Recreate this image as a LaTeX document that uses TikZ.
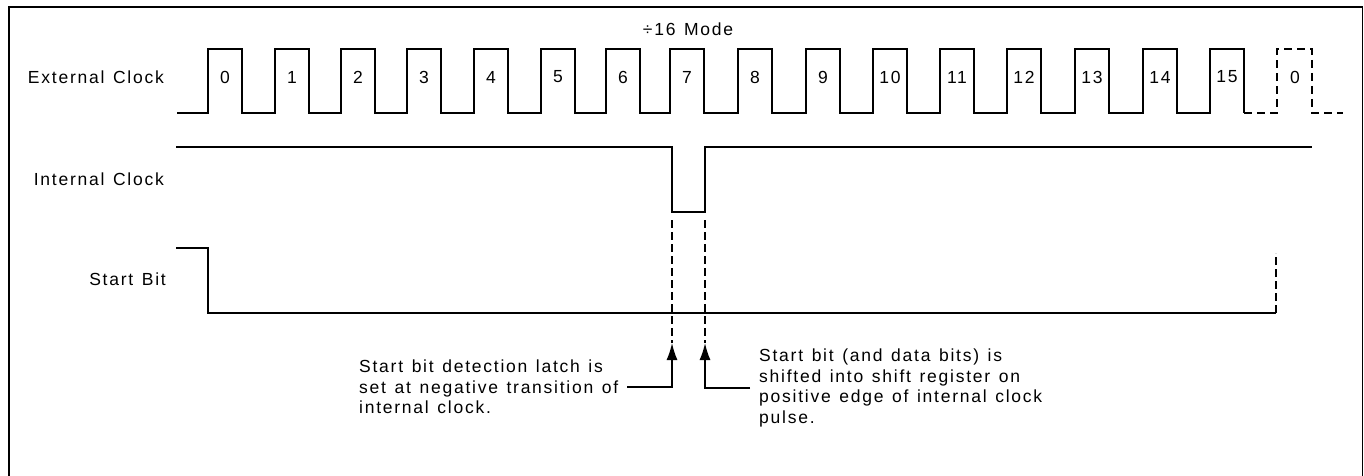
\documentclass[tikz,border=0pt]{standalone}
\usepackage{fontspec}
\setmainfont{Liberation Sans}[LetterSpace=10, WordSpace=1.3]
\usetikzlibrary{positioning,arrows.meta}

\begin{document}
\begin{tikzpicture}[x=1pt, y=-1pt,
  wave/.style={line width=1.5pt},
  ghost/.style={line width=1.5pt, dash pattern=on 8pt off 5pt},
  guide/.style={line width=1.5pt, dash pattern=on 8pt off 4pt},
  conn/.style={line width=1.5pt, -{Latex[length=17pt,width=11pt]}},
  lbl/.style={font=\fontsize{17.5}{20}\selectfont, inner sep=0pt},
  note/.style={font=\fontsize{17.5}{20.7}\selectfont, align=left, inner xsep=9pt, inner ysep=0pt}]

\useasboundingbox (0,0) rectangle (1364,476);

% open frame
\draw[line width=1.8pt] (9,476) -- (9,7) -- (1362.5,7) -- (1362.5,476);

% signal names
\node[lbl, anchor=east] (extname) at (164,77) {External Clock};
\node[lbl, anchor=east] (intname) at (164,179) {Internal Clock};
\node[lbl, anchor=east] (startname) at (166,279) {Start Bit};
\node[lbl] (mode) at (688,29) {÷16 Mode};

% external clock
\draw[wave] (177,113) \foreach \r in {208,275,341,407,474,541,606,670,738,806,873,940,1007,1075,1143,1210} {
  -- (\r,113) -- (\r,49) -- (\r+34,49) -- (\r+34,113) };
\draw[ghost] (1244,113) -- (1277,113) -- (1277,49) -- (1312,49) -- (1312,113) -- (1343,113);
\foreach \r [count=\i from 0] in {208,275,341,407,474,541,606,670,738,806,873,940,1007,1075,1143,1210}
  \node[lbl] (ext\i) at (\r+17,77) {\i};
\node[lbl] (extnext) at (1295,77) {0};

% internal clock
\coordinate (negedge) at (672,212);
\coordinate (posedge) at (705,212);
\draw[wave] (176,147) -- (672,147) -- (negedge) -- (posedge) -- (705,147) -- (1312,147);

% start bit
\draw[wave] (176,248) -- (208,248) -- (208,313) -- (1276,313);
\draw[guide] (1276,313) -- (1276,253);

% edge markers
\coordinate (negtop) at (672,220);
\coordinate (postop) at (705,220);
\coordinate (negtip) at (672,343);
\coordinate (postip) at (705,343);
\draw[guide] (negtop) -- (negtip);
\draw[guide] (postop) -- (postip);

\node[note, anchor=west] (latchnote) at (350,387) {Start bit detection latch is\\set at negative transition of\\internal clock.};
\node[note, anchor=west] (shiftnote) at (750,388) {Start bit (and data bits) is\\shifted into shift register on\\positive edge of internal clock\\pulse.};

\draw[conn] (latchnote.east) -| (negtip);
\draw[conn] (shiftnote.west) -| (postip);

\end{tikzpicture}
\end{document}
